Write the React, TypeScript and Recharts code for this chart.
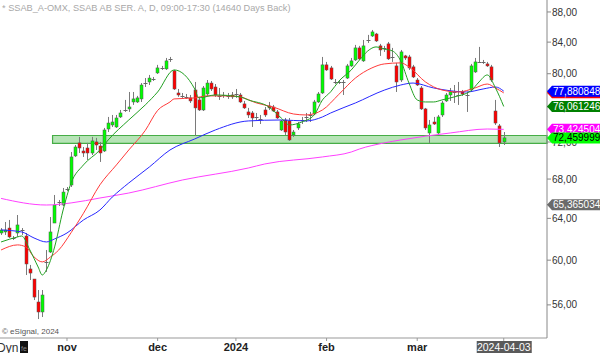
import React from 'react';
import { ComposedChart, Bar, Line, XAxis, YAxis, ReferenceArea } from 'recharts';

const FONT = '"Liberation Sans", Arial, sans-serif';

const titleText = '* SSAB_A-OMX, SSAB AB SER. A, D, 09:00-17:30 (14640 Days Back)';
const copyrightText = '\u00a9 eSignal, 2024';

// [open, high, low, close] per trading day
const candles: [number, number, number, number][] = [
  [62.57, 63.05, 62.38, 62.86], [62.67, 63.64, 62.38, 62.86], [63.05, 63.84, 62.09, 62.19], [62.09, 62.28, 61.9, 62.05],
  [62.57, 64.33, 62.19, 63.35], [62.9, 63.05, 62.38, 62.86], [62.28, 62.57, 58.64, 59.65], [59.19, 59.56, 58.19, 58.82],
  [58.28, 58.28, 56.42, 56.68], [56.25, 57.3, 54.79, 55.39], [55.39, 57.3, 54.96, 56.86], [59.7, 60.95, 58.92, 59.8],
  [60.76, 64.13, 60.67, 62.67], [63.54, 66.35, 63.54, 65.33], [65.53, 65.84, 65.23, 65.63], [65.33, 67.07, 65.23, 66.65],
  [66.91, 67.17, 66.75, 67.0], [67.38, 70.9, 67.17, 70.36], [70.47, 71.67, 70.36, 71.45], [71.9, 72.57, 70.79, 71.34],
  [71.01, 71.45, 70.36, 70.79], [71.34, 71.9, 70.03, 70.79], [70.79, 72.57, 70.57, 72.12], [72.01, 72.46, 71.12, 71.67],
  [71.56, 72.01, 69.82, 70.79], [71.01, 73.58, 70.9, 73.35], [73.46, 74.84, 73.12, 74.14], [73.92, 75.07, 73.69, 74.26],
  [73.69, 75.07, 73.58, 74.72], [74.84, 75.65, 74.72, 75.3], [75.6, 76.83, 75.42, 75.65], [75.77, 77.78, 75.42, 76.0],
  [76.59, 77.78, 76.24, 76.95], [76.59, 77.31, 76.47, 77.07], [76.95, 78.86, 76.59, 78.62], [78.82, 79.47, 78.38, 78.86],
  [78.99, 79.85, 78.62, 79.47], [79.3, 79.6, 79.11, 79.35], [80.1, 81.1, 79.97, 80.72], [80.72, 80.97, 80.47, 80.77],
  [80.6, 81.97, 80.47, 81.6], [81.8, 82.1, 81.47, 81.85], [80.35, 80.47, 78.02, 78.14], [77.66, 78.14, 77.19, 77.42],
  [77.33, 77.66, 77.07, 77.31], [77.21, 77.54, 76.95, 77.19], [77.07, 77.42, 76.47, 76.71], [78.02, 78.99, 72.68, 75.89],
  [76.83, 77.19, 75.53, 75.65], [75.65, 78.5, 75.53, 78.26], [77.54, 79.23, 77.31, 78.86], [78.86, 79.11, 77.9, 78.14],
  [78.38, 78.74, 77.19, 77.42], [77.35, 78.26, 76.83, 77.31], [77.45, 77.78, 77.07, 77.42], [77.28, 77.66, 76.95, 77.31],
  [77.42, 77.78, 76.95, 77.19], [77.5, 78.14, 77.07, 77.54], [77.42, 77.66, 76.47, 76.59], [76.36, 76.71, 75.77, 75.89],
  [75.42, 75.89, 74.72, 75.07], [75.3, 75.53, 73.69, 74.72], [74.8, 75.3, 74.49, 74.84], [74.6, 75.07, 74.03, 74.61],
  [75.65, 76.0, 74.84, 75.07], [76.12, 76.59, 75.65, 75.89], [76.0, 76.24, 75.42, 75.53], [75.42, 75.65, 74.61, 74.72],
  [73.35, 74.49, 73.24, 74.38], [74.49, 74.72, 72.79, 73.12], [74.38, 74.72, 72.12, 72.23], [72.79, 73.35, 72.57, 73.12],
  [73.58, 74.26, 73.35, 74.03], [74.45, 74.84, 74.03, 74.49], [74.8, 75.3, 74.26, 74.84], [75.05, 75.42, 74.26, 75.07],
  [75.18, 76.83, 75.07, 76.59], [76.59, 77.78, 76.47, 77.54], [77.66, 82.1, 77.54, 81.1], [81.1, 81.47, 80.35, 80.47],
  [80.72, 80.97, 79.23, 79.35], [79.0, 79.35, 78.74, 78.99], [78.97, 79.23, 78.74, 78.99], [79.02, 79.23, 77.42, 78.99],
  [79.47, 81.22, 79.35, 80.97], [80.97, 81.97, 80.85, 81.6], [81.72, 83.64, 81.6, 83.25], [83.25, 83.51, 81.72, 81.85],
  [81.6, 84.28, 81.47, 83.51], [84.25, 84.94, 83.89, 84.28], [84.8, 85.59, 84.67, 85.33], [85.06, 85.2, 84.02, 84.15],
  [83.51, 83.77, 82.23, 82.99], [83.22, 83.51, 82.74, 83.25], [83.77, 84.02, 81.72, 81.85], [82.05, 83.25, 81.47, 82.1],
  [80.97, 81.35, 77.78, 78.99], [79.23, 82.99, 78.99, 82.74], [82.23, 82.36, 81.72, 81.97], [82.1, 82.36, 80.47, 80.72],
  [80.85, 81.1, 79.47, 79.6], [79.23, 79.47, 78.5, 78.62], [78.26, 78.5, 75.65, 75.77], [75.77, 75.89, 73.35, 73.58],
  [73.01, 74.49, 71.9, 73.92], [74.26, 74.84, 73.92, 74.03], [73.01, 75.07, 72.9, 74.84], [75.07, 76.71, 74.84, 76.47],
  [76.71, 77.66, 76.59, 77.42], [77.42, 78.26, 76.71, 77.78], [77.75, 78.62, 76.47, 77.78], [77.45, 78.99, 76.24, 77.42],
  [77.78, 78.02, 77.31, 77.54], [77.4, 77.78, 75.42, 77.42], [78.02, 81.22, 77.9, 80.97], [80.22, 81.97, 80.1, 81.47],
  [81.45, 83.38, 81.35, 81.47], [81.5, 81.72, 81.22, 81.47], [81.22, 81.47, 80.85, 80.97], [80.85, 81.1, 78.99, 79.23],
  [75.53, 76.83, 73.92, 74.14], [73.81, 74.03, 71.45, 71.9], [72.01, 73.12, 71.67, 72.46],
];

const emptyDaysAfter = 10;

const dateTickIndex = [16, 38, 57, 79, 101, 122];
const dateTickLabels = ['nov', 'dec', '2024', 'feb', 'mar', '2024-04-03'];

const priceTicks = [56, 60, 64, 68, 72, 76, 80, 84, 88];
const priceDomain: [number, number] = [53.21, 89.64];

// moving averages read at sample days: [day index, value]
const maGreen: [number, number][] = [
  [0, 61.71], [4, 62.19], [5, 62.28], [7, 60.95], [9, 59.37], [10, 58.64], [11, 59.1], [13, 61.24], [15, 64.73],
  [17, 67.59], [20, 69.5], [24, 71.12], [26, 72.23], [31, 74.49], [35, 76.24], [38, 77.78], [42, 80.47], [47, 78.14],
  [48, 77.07], [52, 77.42], [58, 77.19], [60, 76.83], [65, 76.0], [68, 74.72], [70, 73.92], [73, 74.26], [76, 75.07],
  [78, 76.83], [80, 77.8], [82, 79.1], [85, 80.47], [87, 81.72], [89, 82.86], [91, 83.38], [93, 83.1], [95, 82.86],
  [97, 81.6], [99, 78.86], [101, 76.83], [103, 76.59], [105, 76.59], [107, 76.83], [110, 77.19], [114, 77.9],
  [116, 78.99], [118, 79.85], [120, 78.26], [122, 76.06],
];
const maRed: [number, number][] = [
  [0, 60.95], [4, 61.43], [6, 61.24], [8, 60.3], [10, 59.84], [12, 60.3], [14, 60.95], [17, 62.6], [20, 64.5],
  [24, 67.4], [28, 69.5], [31, 71.12], [35, 73.3], [38, 75.6], [41, 76.59], [42, 76.95], [47, 77.07], [50, 77.31],
  [55, 77.31], [58, 77.19], [62, 76.47], [66, 76.0], [71, 75.18], [74, 75.07], [78, 75.65], [82, 77.5], [86, 79.47],
  [90, 80.72], [93, 81.22], [97, 81.35], [99, 80.85], [103, 78.99], [107, 78.02], [111, 77.78], [115, 78.26],
  [118, 78.74], [120, 78.26], [122, 77.67],
];
const maBlue: [number, number][] = [
  [0, 62.86], [5, 62.67], [8, 62.09], [11, 61.71], [13, 62.0], [16, 62.57], [20, 63.84], [24, 64.83], [27, 66.14],
  [31, 67.59], [36, 69.28], [41, 71.12], [47, 72.34], [52, 73.35], [60, 74.38], [68, 74.49], [74, 74.38], [78, 74.84],
  [80, 75.3], [86, 76.47], [93, 78.0], [97, 78.62], [100, 78.86], [105, 78.26], [113, 77.78], [117, 78.14],
  [120, 78.38], [122, 77.88],
];
const maMagenta: [number, number][] = [
  [0, 66.0], [11, 65.33], [17, 65.54], [24, 66.04], [31, 66.55], [44, 67.9], [60, 69.17], [64, 69.6], [78, 70.36],
  [85, 70.9], [87, 71.23], [93, 71.9], [97, 72.23], [109, 73.01], [118, 73.46], [122, 73.42],
];

// support zone: from day index to end of chart, price range
const supportBand = { fromDay: 13, low: 71.84, high: 72.73 };

const tagValues = [65.365034, 73.424504, 72.459999, 77.674808, 77.880848, 76.061246];
const tagTexts = ['65,365034', '73,424504', '72,459999', '77,674808', '77,880848', '76,061246'];
const tagStyles = [
  { bg: '#6a6a6a', fg: '#ffffff' },
  { bg: '#ff00ff', fg: '#ffffff' },
  { bg: '#00ff00', fg: '#000000' },
  { bg: '#ff0000', fg: '#ffffff' },
  { bg: '#0000ff', fg: '#ffffff' },
  { bg: '#008000', fg: '#ffffff' },
];

type Row = {
  i: number;
  range: [number, number] | null;
  ohlc: [number, number, number, number] | null;
  g: number | null;
  r: number | null;
  b: number | null;
  m: number | null;
};

const rows: Row[] = Array.from({ length: candles.length + emptyDaysAfter }, (_, i) => {
  const c = candles[i];
  return { i, range: c ? [c[2], c[1]] : null, ohlc: c ?? null, g: null, r: null, b: null, m: null };
});
maGreen.forEach(([i, v]) => { rows[i].g = v; });
maRed.forEach(([i, v]) => { rows[i].r = v; });
maBlue.forEach(([i, v]) => { rows[i].b = v; });
maMagenta.forEach(([i, v]) => { rows[i].m = v; });

const lastIndex = rows.length - 1;

const Candle = (props: any) => {
  const { x, y, width, height, payload } = props;
  if (!payload || !payload.ohlc || y == null || height == null || isNaN(y)) return null;
  const [o, h, l, c] = payload.ohlc;
  const span = Math.log(h) - Math.log(l);
  const toY = (v: number) => (span > 0 ? y + (height * (Math.log(h) - Math.log(v))) / span : y);
  const cx = Math.round(x + width / 2) + 0.5;
  const yO = toY(o);
  const yC = toY(c);
  const top = Math.min(yO, yC);
  const bh = Math.abs(yO - yC);
  const up = c >= o;
  return (
    <g>
      <line x1={cx} x2={cx} y1={y} y2={y + height} stroke="#7a7a7a" strokeWidth={1} />
      {bh < 1.2 ? (
        <line x1={cx - 2} x2={cx + 2} y1={Math.round(top) + 0.5} y2={Math.round(top) + 0.5} stroke="#666" strokeWidth={1} />
      ) : (
        <rect x={cx - 1.5} y={top} width={3} height={bh} fill={up ? '#00ff00' : '#ff0000'} stroke="#555" strokeWidth={0.5} />
      )}
    </g>
  );
};

const DateTick = (props: any) => {
  const { x, y, payload } = props;
  const k = dateTickIndex.indexOf(payload.value);
  if (k < 0) return null;
  const label = dateTickLabels[k];
  if (k === dateTickIndex.length - 1) {
    return (
      <g>
        <rect x={x - 27} y={y} width={55} height={13} fill="#5a5a5a" />
        <text x={x} y={y + 10} textAnchor="middle" fontSize={10.5} fontFamily={FONT} fill="#ffffff">{label}</text>
      </g>
    );
  }
  return (
    <text x={x} y={y + 10} textAnchor="middle" fontSize={11} fontWeight="bold" fontFamily={FONT} fill="#222">{label}</text>
  );
};

const fmtPrice = (v: number) => v.toFixed(2).replace('.', ',');

// y axis tick: ordinary price labels first, then the value tags on top
const PriceTick = (props: any) => {
  const { x, y, payload } = props;
  const v = payload.value;
  const k = tagValues.indexOf(v);
  if (k < 0) {
    return (
      <text x={x} y={y} dy="0.36em" fontSize={10} fontFamily={FONT} fill="#333">{fmtPrice(v)}</text>
    );
  }
  const x0 = x - 5;
  const hh = 5.5;
  const st = tagStyles[k];
  return (
    <g>
      <polygon points={`${x0},${y} ${x0 + 5},${y - hh} ${x0 + 60},${y - hh} ${x0 + 60},${y + hh} ${x0 + 5},${y + hh}`} fill={st.bg} />
      <text x={x0 + 6} y={y} dy="0.36em" fontSize={10} fontFamily={FONT} fill={st.fg}>{tagTexts[k]}</text>
    </g>
  );
};

const lineCommon = {
  strokeWidth: 1,
  dot: false,
  activeDot: false,
  connectNulls: true,
  type: 'monotone' as const,
  isAnimationActive: false,
};

export default function App() {
  return (
    <div style={{ position: 'absolute', left: 0, top: 0, width: 600, height: 353, background: '#fff' }}>
      <ComposedChart width={600} height={353} data={rows} margin={{ top: 0, right: 0, bottom: 0, left: -1 }}>
        <XAxis
          dataKey="i"
          type="category"
          ticks={dateTickIndex}
          interval={0}
          tick={<DateTick />}
          tickSize={3}
          tickMargin={0}
          axisLine={{ stroke: '#999' }}
          tickLine={{ stroke: '#999' }}
          height={15}
        />
        <YAxis
          orientation="right"
          type="number"
          scale="log"
          domain={priceDomain}
          allowDataOverflow
          ticks={[...priceTicks, ...tagValues]}
          interval={0}
          width={53}
          tickSize={4}
          tickMargin={1}
          axisLine={{ stroke: '#888' }}
          tickLine={{ stroke: '#888' }}
          tick={<PriceTick />}
        />
        <ReferenceArea
          x1={supportBand.fromDay}
          x2={lastIndex}
          y1={supportBand.low}
          y2={supportBand.high}
          fill="#b6e4b6"
          fillOpacity={1}
          stroke="#46ad46"
          strokeWidth={1.2}
        />
        <Line dataKey="m" stroke="#ff40ff" {...lineCommon} />
        <Line dataKey="b" stroke="#2828ff" {...lineCommon} />
        <Line dataKey="r" stroke="#ff3a3a" {...lineCommon} />
        <Line dataKey="g" stroke="#22a022" {...lineCommon} />
        <Bar dataKey="range" shape={<Candle />} isAnimationActive={false} activeBar={false} />
      </ComposedChart>
      <svg width={600} height={353} style={{ position: 'absolute', left: 0, top: 0, pointerEvents: 'none' }}>
        <text x={2} y={11} fontSize={9.2} fontFamily={FONT} fill="#a8a8a8">{titleText}</text>
        <text x={2} y={334} fontSize={8} fontFamily={FONT} fill="#555">{copyrightText}</text>
        <text x={-3} y={352} fontSize={12} fontFamily={FONT} fill="#333">Dyn</text>
        <rect x={20} y={341} width={8} height={12} fill="#111" />
        <text x={21} y={351} fontSize={7} fontFamily={FONT} fill="#888">fe</text>
      </svg>
    </div>
  );
}
